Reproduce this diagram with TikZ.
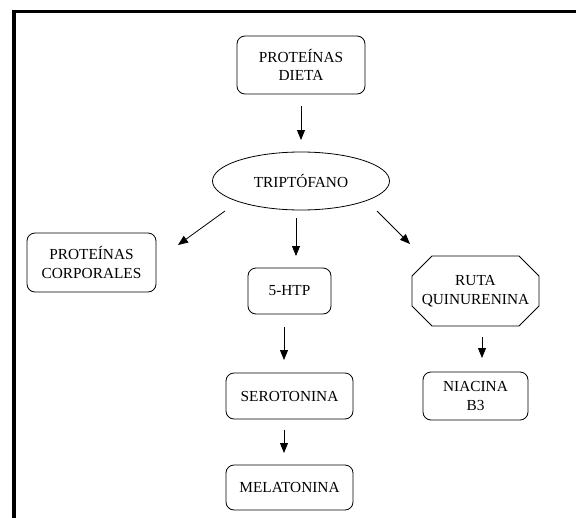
\documentclass[tikz,border=0pt]{standalone}
\usepackage{fontspec}
\setmainfont{Liberation Serif}
\usetikzlibrary{arrows.meta,shapes.geometric}
\tikzset{
  block/.style  = {draw, line width=0.6pt, rectangle, rounded corners=6pt,
                   outer sep=0pt, align=center, inner sep=2pt},
  oval/.style   = {draw, line width=0.6pt, ellipse, outer sep=0pt,
                   inner sep=0pt, minimum width=132.75pt, minimum height=43.5pt},
  octbox/.style = {rectangle, outer sep=0pt, inner sep=0pt, align=center,
                   minimum width=95.25pt, minimum height=52.5pt},
  sig/.style    = {-{Triangle[length=7.5pt,width=6pt]}, line width=0.6pt},
}
\begin{document}
\begin{tikzpicture}[x=0.75pt,y=-0.75pt,font=\fontsize{11.5}{14}\selectfont]
\useasboundingbox (0,0) rectangle (576,518);
\draw[line width=2.6pt] (576,11.7) -- (14,11.7) -- (14,518);
\node[block,minimum width=96pt,minimum height=43.5pt] (dieta) at (301,65) {PROTEÍNAS\\DIETA};
\node[oval] (trip) at (301,181) {TRIPTÓFANO};
\node[block,minimum width=96.75pt,minimum height=44.25pt] (corp) at (91.5,262.5) {PROTEÍNAS\\CORPORALES};
\node[block,minimum width=62.25pt,minimum height=34.5pt] (htp) at (289.5,291) {5-HTP};
\node[octbox] (ruta) at (475.5,291) {RUTA\\QUINURENINA};
\node[block,minimum width=95.25pt,minimum height=34.5pt] (sero) at (289.5,396) {SEROTONINA};
\node[block,minimum width=78.75pt,minimum height=36pt] (niac) at (475.5,396) {NIACINA\\B3};
\node[block,minimum width=95.25pt,minimum height=33.75pt] (mela) at (289.5,487.5) {MELATONINA};
\draw[line width=0.6pt] ([xshift=15pt]ruta.north west) -- ([xshift=-15pt]ruta.north east)
  -- ([yshift=-15pt]ruta.north east) -- ([yshift=15pt]ruta.south east)
  -- ([xshift=-15pt]ruta.south east) -- ([xshift=15pt]ruta.south west)
  -- ([yshift=15pt]ruta.south west) -- ([yshift=-15pt]ruta.north west) -- cycle;
\draw[sig] ([shift={(0,12)}]dieta.south) -- ([shift={(0,-12)}]trip.north);
\draw[sig] ([shift={(-76,30)}]trip.center) -- ([shift={(22,12)}]corp.north east);
\draw[sig] ([shift={(-5,8)}]trip.south) -- ([shift={(6.5,-12)}]htp.north);
\draw[sig] ([shift={(76,30)}]trip.center) -- ([shift={(-65.5,-47)}]ruta.center);
\draw[sig] ([shift={(-5.5,13)}]htp.south) -- ([shift={(-5.5,-13)}]sero.north);
\draw[sig] ([shift={(-5.5,11)}]sero.south) -- ([shift={(-5.5,-12)}]mela.north);
\draw[sig] ([shift={(6.5,11)}]ruta.south) -- ([shift={(6.5,-14)}]niac.north);
\end{tikzpicture}
\end{document}
